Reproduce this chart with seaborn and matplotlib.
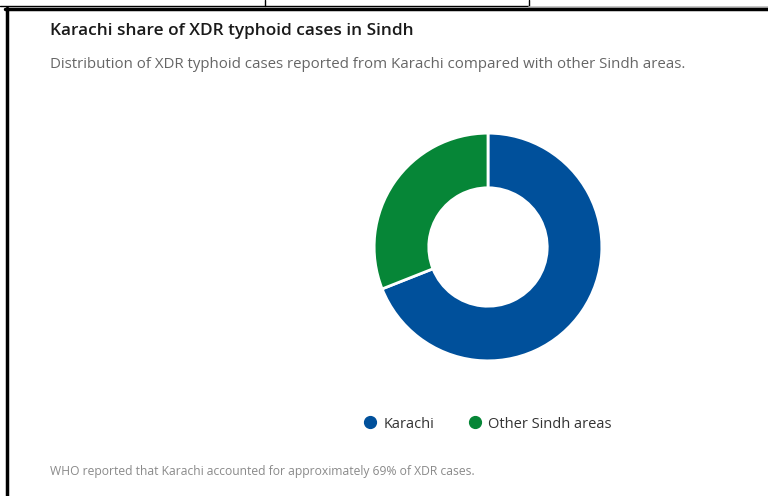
import matplotlib
matplotlib.use("Agg")
import matplotlib.pyplot as plt
from matplotlib.lines import Line2D
import seaborn as sns

# Data
categories = ["Karachi", "Other Sindh areas"]
shares = [69, 31]
colors = ["#00509B", "#068637"]

title = "Karachi share of XDR typhoid cases in Sindh"
subtitle = "Distribution of XDR typhoid cases reported from Karachi compared with other Sindh areas."
footnote = "WHO reported that Karachi accounted for approximately 69% of XDR cases."

sns.set_theme(style="white")
plt.rcParams["font.family"] = ["Open Sans", "DejaVu Sans"]

W, H = 768, 496
fig = plt.figure(figsize=(W / 100, H / 100), dpi=100)
fig.patch.set_facecolor("white")


def fx(px):
    return px / W


def fy(py):
    return 1 - py / H


# Donut
cx, cy, r = 488, 247, 115
ax = fig.add_axes([fx(cx - r), fy(cy + r), 2 * r / W, 2 * r / H])
ax.pie(
    shares,
    colors=colors,
    startangle=90,
    counterclock=False,
    radius=1,
    wedgeprops=dict(width=0.48, edgecolor="white", linewidth=2),
)
ax.set_xlim(-1.01, 1.01)
ax.set_ylim(-1.01, 1.01)
ax.set_aspect("equal")
ax.axis("off")

# Texts
fig.text(fx(50), fy(31), title, fontsize=12.4, fontweight="semibold",
         color="#1a1a1a", va="center", ha="left")
fig.text(fx(50), fy(65), subtitle, fontsize=10.8, color="#666666",
         va="center", ha="left")
fig.text(fx(50), fy(471), footnote, fontsize=8.7, color="#8a8a8a",
         va="center", ha="left")

# Legend
handles = [Line2D([0], [0], marker="o", linestyle="none", markersize=8.5,
                  markerfacecolor=c, markeredgecolor=c) for c in colors]
fig.legend(handles, categories, loc="center", bbox_to_anchor=(fx(486), fy(424)),
           ncol=2, frameon=False, fontsize=10.5, handletextpad=0.2,
           handlelength=1.4, columnspacing=2.1, labelcolor="#333333")

# Window frame lines
frame = [
    ((0, 529), (6, 6), "black", 1.0),
    ((265, 265), (0, 6), "black", 1.0),
    ((529, 529), (0, 6), "black", 1.0),
    ((529, 768), (6.5, 6.5), "#bbbbbb", 1.2),
    ((5, 768), (8.7, 8.7), "black", 2.5),
    ((6.5, 6.5), (8, 496), "black", 2.5),
]
for xs, ys, c, lw in frame:
    fig.add_artist(Line2D([fx(x) for x in xs], [fy(y) for y in ys],
                          color=c, linewidth=lw, transform=fig.transFigure))

fig.savefig("out.png", dpi=100, facecolor="white")
